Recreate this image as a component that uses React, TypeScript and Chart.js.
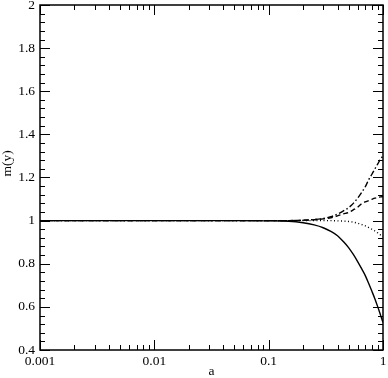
import { useEffect, useRef } from "react";
import { Chart, registerables } from "chart.js";

Chart.register(...registerables);

const aValues = [0.001, 0.01, 0.05, 0.1, 0.15, 0.2, 0.25, 0.3, 0.35, 0.4, 0.45, 0.5, 0.55, 0.6, 0.65, 0.7, 0.75, 0.8, 0.85, 0.9, 0.95, 1];
const solidSeries = [1, 1, 1, 0.999, 0.997, 0.99, 0.98, 0.967, 0.95, 0.93, 0.903, 0.875, 0.843, 0.81, 0.777, 0.745, 0.708, 0.672, 0.637, 0.6, 0.563, 0.527];
const dottedSeries = [1, 1, 1, 1, 1, 1, 1, 1, 1, 0.999, 0.998, 0.996, 0.993, 0.988, 0.982, 0.976, 0.968, 0.96, 0.952, 0.943, 0.934, 0.925];
const dashedSeries = [1, 1, 1, 1, 1, 1.002, 1.004, 1.008, 1.013, 1.022, 1.031, 1.038, 1.05, 1.062, 1.078, 1.087, 1.093, 1.099, 1.104, 1.107, 1.11, 1.111];
const dashDotSeries = [1, 1, 1, 1, 1, 1.002, 1.005, 1.01, 1.018, 1.03, 1.045, 1.06, 1.08, 1.104, 1.13, 1.157, 1.19, 1.215, 1.24, 1.263, 1.285, 1.3];

const xTickLabels = [0.001, 0.01, 0.1, 1];
const yMin = 0.4;
const yMax = 2;
const yMajorStep = 0.2;
const yMinorStep = 0.04;

const FONT = '"Liberation Serif", "DejaVu Serif", serif';
const FONT_SIZE = 13.5;

const toPoints = (ys: number[]) => aValues.map((a, i) => ({ x: a, y: ys[i] }));

const framePlugin = {
  id: "frameTicks",
  afterDatasetsDraw(chart: any) {
    const { ctx, chartArea, scales } = chart;
    const { left, right, top, bottom } = chartArea;
    const xs = scales.x;
    const ys = scales.y;
    ctx.save();
    ctx.strokeStyle = "#000";
    ctx.lineWidth = 1;
    const major = 10;
    const minor = 5;
    for (let d = 0; d < xTickLabels.length; d++) {
      const dec = xTickLabels[d];
      const px = Math.round(xs.getPixelForValue(dec)) + 0.5;
      ctx.beginPath();
      ctx.moveTo(px, bottom);
      ctx.lineTo(px, bottom - major);
      ctx.moveTo(px, top);
      ctx.lineTo(px, top + major);
      ctx.stroke();
      if (d < xTickLabels.length - 1) {
        for (let k = 2; k <= 9; k++) {
          const mx = Math.round(xs.getPixelForValue(dec * k)) + 0.5;
          ctx.beginPath();
          ctx.moveTo(mx, bottom);
          ctx.lineTo(mx, bottom - minor);
          ctx.moveTo(mx, top);
          ctx.lineTo(mx, top + minor);
          ctx.stroke();
        }
      }
    }
    const nMinor = Math.round((yMax - yMin) / yMinorStep);
    const ratio = Math.round(yMajorStep / yMinorStep);
    for (let i = 0; i <= nMinor; i++) {
      const v = yMin + i * yMinorStep;
      const py = Math.round(ys.getPixelForValue(v)) + 0.5;
      const len = i % ratio === 0 ? major : minor;
      ctx.beginPath();
      ctx.moveTo(left, py);
      ctx.lineTo(left + len, py);
      ctx.moveTo(right, py);
      ctx.lineTo(right - len, py);
      ctx.stroke();
    }
    ctx.lineWidth = 1.5;
    ctx.strokeRect(left, top, right - left, bottom - top);
    ctx.fillStyle = "#000";
    ctx.font = `${FONT_SIZE}px ${FONT}`;
    ctx.textAlign = "center";
    ctx.textBaseline = "middle";
    ctx.fillText("a", (left + right) / 2, bottom + 21);
    ctx.save();
    ctx.translate(left - 33, (top + bottom) / 2 - 14);
    ctx.rotate(-Math.PI / 2);
    ctx.fillText("m(y)", 0, 0);
    ctx.restore();
    ctx.restore();
  },
};

export default function App() {
  const ref = useRef<HTMLCanvasElement | null>(null);
  useEffect(() => {
    if (!ref.current) return;
    const common = {
      borderColor: "#000",
      borderWidth: 1.4,
      pointRadius: 0,
      fill: false,
      cubicInterpolationMode: "monotone" as const,
    };
    const chart = new Chart(ref.current, {
      type: "line",
      data: {
        datasets: [
          { ...common, label: "solid", data: toPoints(solidSeries) },
          { ...common, label: "dotted", data: toPoints(dottedSeries), borderDash: [1, 2.5] },
          { ...common, label: "dashed", data: toPoints(dashedSeries), borderDash: [5, 3] },
          { ...common, label: "dash-dot", data: toPoints(dashDotSeries), borderDash: [6, 2.5, 1.5, 2.5] },
        ],
      },
      options: {
        animation: false,
        responsive: false,
        layout: { padding: { top: 5, right: 5, left: 0, bottom: 0 } },
        plugins: { legend: { display: false }, tooltip: { enabled: false } },
        scales: {
          x: {
            type: "logarithmic",
            min: 0.001,
            max: 1,
            border: { display: false },
            grid: { display: true, drawOnChartArea: false, drawTicks: false, color: "transparent" },
            ticks: {
              color: "#000",
              font: { family: FONT, size: FONT_SIZE },
              padding: 3,
              maxRotation: 0,
              autoSkip: false,
              callback: (v: any) => String(v),
            },
            afterBuildTicks: (scale: any) => {
              scale.ticks = xTickLabels.map((v) => ({ value: v, major: true }));
            },
            afterFit: (scale: any) => {
              scale.height = 28;
              scale.paddingLeft = 0;
              scale.paddingRight = 0;
            },
          },
          y: {
            type: "linear",
            min: yMin,
            max: yMax,
            border: { display: false },
            grid: { display: true, drawOnChartArea: false, drawTicks: false, color: "transparent" },
            ticks: {
              color: "#000",
              font: { family: FONT, size: FONT_SIZE },
              padding: 5,
              stepSize: yMajorStep,
              callback: (v: any) => String(Number(Number(v).toFixed(1))),
            },
            afterFit: (scale: any) => {
              scale.width = 40;
              scale.paddingTop = 0;
              scale.paddingBottom = 0;
            },
          },
        },
      },
      plugins: [framePlugin],
    });
    return () => chart.destroy();
  }, []);
  return (
    <div style={{ position: "absolute", left: 0, top: 0, width: 388, height: 378, background: "#fff" }}>
      <canvas ref={ref} width={388} height={378} style={{ display: "block" }} />
    </div>
  );
}
